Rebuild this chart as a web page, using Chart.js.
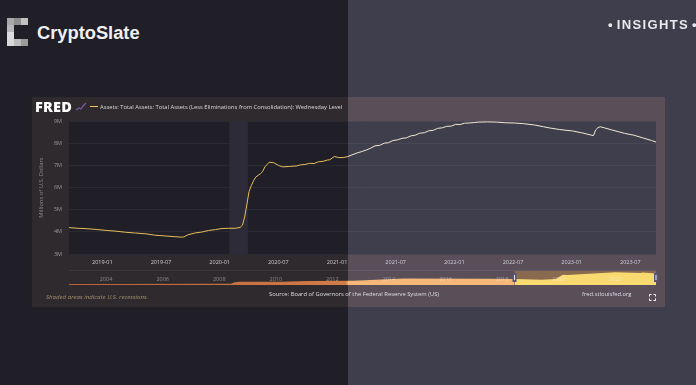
<!DOCTYPE html>
<html>
<head>
<meta charset="utf-8">
<title>CryptoSlate FRED</title>
<script src="https://cdn.jsdelivr.net/npm/chart.js@4"></script>
<style>
html, body { margin: 0; padding: 0; }
body { width: 696px; height: 385px; background: #201f28; overflow: hidden; position: relative; font-family: "Open Sans", sans-serif; }
div, canvas, svg { position: absolute; }
#panel_left { left: 32px; top: 97px; width: 316px; height: 210px; background: #2e2a2d; }
#panel_right { left: 348px; top: 97px; width: 317px; height: 210px; background: #403238; }
#main { left: 32px; top: 97px; }
#nav { left: 65px; top: 268px; }
#overlay { left: 348px; top: 0; width: 348px; height: 385px; background: rgba(220,220,255,0.17); }
#brand { left: 37px; top: 22px; font: bold 18.3px "Liberation Sans", sans-serif; color: #f0f0f2; }
#insights { left: 608px; top: 17px; font: bold 13px "Liberation Sans", sans-serif; letter-spacing: 1.35px; word-spacing: -2px; color: #e9e9ee; white-space: nowrap; }
.logo { width: 7px; height: 7px; }
#fred { left: 35px; top: 97px; font: 800 14.5px "Open Sans", sans-serif; color: #fff; letter-spacing: 0.2px; }
#swatch { left: 90px; top: 106px; width: 8px; height: 1px; background: #f2c55c; }
#legend { left: 100px; top: 102px; font-size: 5.8px; line-height: 10px; color: #dcdcdc; white-space: nowrap; }
#shaded { left: 46px; top: 292px; font-size: 6.1px; line-height: 10px; font-style: italic; color: #a3916a; white-space: nowrap; }
#source { left: 269px; top: 289px; font-size: 5.8px; line-height: 10px; color: #dfdfdf; white-space: nowrap; }
#site { left: 582px; top: 289px; font-size: 5.8px; line-height: 10px; color: #dfdfdf; white-space: nowrap; }
</style>
</head>
<body>
<div id="panel_left"></div>
<div id="panel_right"></div>
<canvas id="main" width="633" height="175"></canvas>
<canvas id="nav" width="597" height="19"></canvas>
<div id="fred">FRED</div>
<svg style="left:75px;top:101px" width="12" height="10"><polyline points="1,9 4,7 6,8 8,5 11,2" fill="none" stroke="#7a5aa6" stroke-width="1.3"/></svg>
<div id="swatch"></div>
<div id="legend"></div>
<div id="shaded">Shaded areas indicate U.S. recessions.</div>
<div id="source">Source: Board of Governors of the Federal Reserve System (US)</div>
<div id="site">fred.stlouisfed.org</div>
<svg style="left:649px;top:294px" width="7" height="7"><path d="M0.5 2.5V0.5H2.5M4.5 0.5H6.5V2.5M6.5 4.5V6.5H4.5M2.5 6.5H0.5V4.5" fill="none" stroke="#fff" stroke-width="1"/></svg>
<div id="overlay"></div>
<div id="logo"></div>
<div id="brand">CryptoSlate</div>
<div id="insights">&bull; INSIGHTS &bull;</div>

<script>
const seriesName = 'Assets: Total Assets: Total Assets (Less Eliminations from Consolidation): Wednesday Level'
const yTitle = 'Millions of U.S. Dollars'

const dates = [
    '2018-09-19','2018-10-17','2018-11-14','2018-12-12','2019-01-16','2019-02-13','2019-03-13','2019-04-10',
    '2019-05-15','2019-06-12','2019-07-17','2019-08-14','2019-09-04','2019-09-11','2019-09-25','2019-10-16',
    '2019-11-06','2019-11-27','2019-12-18','2020-01-08','2020-01-29','2020-02-19','2020-03-04','2020-03-11',
    '2020-03-18','2020-03-25','2020-04-01','2020-04-08','2020-04-15','2020-04-22','2020-05-06','2020-05-13',
    '2020-05-20','2020-05-27','2020-06-03','2020-06-17','2020-07-01','2020-07-15','2020-08-05','2020-08-26',
    '2020-09-09','2020-09-23','2020-10-07','2020-10-21','2020-11-04','2020-11-18','2020-12-02','2020-12-09',
    '2020-12-23','2021-01-06','2021-01-20','2021-02-03','2021-02-17','2021-03-03','2021-03-17','2021-03-31',
    '2021-04-14','2021-04-28','2021-05-12','2021-05-26','2021-06-09','2021-06-23','2021-07-07','2021-07-21',
    '2021-08-04','2021-08-18','2021-09-01','2021-09-15','2021-09-29','2021-10-13','2021-10-27','2021-11-10',
    '2021-11-24','2021-12-08','2021-12-22','2022-01-05','2022-01-19','2022-02-02','2022-02-16','2022-03-02',
    '2022-03-16','2022-04-13','2022-05-11','2022-06-08','2022-07-06','2022-08-03','2022-09-07','2022-10-05',
    '2022-10-26','2022-11-23','2022-12-14','2023-01-04','2023-02-01','2023-03-08','2023-03-15','2023-03-22',
    '2023-03-29','2023-04-12','2023-05-03','2023-05-24','2023-06-14','2023-07-12','2023-08-09','2023-09-06',
    '2023-09-20'
]
const assets = [
    4.19,4.16,4.14,4.11,4.06,4.03,3.98,3.95,
    3.91,3.85,3.81,3.78,3.76,3.77,3.87,3.95,
    3.99,4.06,4.10,4.15,4.16,4.16,4.20,4.30,
    4.67,5.25,5.81,6.08,6.30,6.47,6.62,6.72,
    6.93,7.04,7.14,7.12,7.00,6.93,6.95,6.97,
    7.02,7.04,7.09,7.08,7.16,7.18,7.24,7.25,
    7.40,7.35,7.35,7.39,7.47,7.56,7.62,7.69,
    7.77,7.88,7.90,8.00,8.02,8.12,8.15,8.22,
    8.24,8.33,8.36,8.45,8.47,8.56,8.58,8.67,
    8.69,8.76,8.77,8.85,8.84,8.90,8.91,8.93,
    8.95,8.96,8.95,8.92,8.91,8.88,8.82,8.74,
    8.68,8.62,8.58,8.55,8.47,8.34,8.60,8.70,
    8.74,8.69,8.60,8.52,8.44,8.36,8.24,8.12,
    8.05
]
const xTickLabels = ['2019-01','2019-07','2020-01','2020-07','2021-01','2021-07','2022-01','2022-07','2023-01','2023-07']
const yTicks = [3, 4, 5, 6, 7, 8, 9]
const recessionStart = '2020-02-01'
const recessionEnd = '2020-03-28'

// navigator, whole history
const navDates = ['2002-12-18','2008-09-10','2008-10-15','2008-12-17','2010-06-16','2011-06-15','2013-01-16','2014-10-15','2017-10-18','2018-09-19','2019-09-04','2020-03-04','2020-06-03','2020-08-05','2022-04-13','2023-03-08','2023-03-29','2023-09-20']
const navValues = [0.72,0.92,1.77,2.25,2.33,2.87,2.95,4.48,4.46,4.19,3.76,4.20,7.14,6.95,8.96,8.34,8.74,8.05]
const navTickLabels = ['2004','2006','2008','2010','2012','2014','2016','2018','2020','2022']
const windowStart = '2018-09-19'
const windowEnd = '2023-09-20'

// pixel blocks of the logo: column, row, grey
const logoCols = [0,1,2,0,0,0,0,1,2]
const logoRows = [0,0,0,1,2,3,3,3,3]
const logoGreys = ['#a8a8a8','#8e8e8e','#c2c2c2','#b8b8b8','#dcdcdc','#b0b0b0','#d8d8d8','#bcbcbc','#9c9c9c']

const mes = (fecha) => {
    const p = fecha.split('-').map(Number)
    return (p[0] - 2019) * 12 + ((p[1] || 1) - 1) + ((p[2] || 1) - 1) / 30.4
}

document.getElementById('legend').textContent = seriesName
logoCols.forEach((c, i) => {
    const d = document.createElement('div')
    d.className = 'logo'
    d.style.left = (7 + c * 7) + 'px'
    d.style.top = (18 + logoRows[i] * 7) + 'px'
    d.style.background = logoGreys[i]
    document.getElementById('logo').appendChild(d)
})

const bandaRecesion = {
    id: 'bandaRecesion',
    beforeDraw(chart) {
        const a = chart.chartArea, ctx = chart.ctx
        ctx.fillStyle = '#201f28'
        ctx.fillRect(a.left, a.top, a.width, a.height)
    },
    beforeDatasetsDraw(chart) {
        const a = chart.chartArea, ctx = chart.ctx, x = chart.scales.x
        const x0 = x.getPixelForValue(mes(recessionStart))
        const x1 = x.getPixelForValue(mes(recessionEnd))
        ctx.fillStyle = '#2c2b37'
        ctx.fillRect(x0, a.top, x1 - x0, a.height)
    }
}

new Chart(document.getElementById('main').getContext('2d'), {
    type: 'line',
    data: {
        datasets: [{
            label: seriesName,
            data: dates.map((d, i) => ({ x: mes(d), y: assets[i] })),
            borderColor: '#e8bd5a',
            // the line turns pale under the lighter half of the page
            segment: { borderColor: (c) => c.p0.parsed.x >= mes('2021-02-03') ? '#f5ecc8' : '#e8bd5a' },
            borderWidth: 1,
            pointRadius: 0,
            tension: 0
        }]
    },
    options: {
        responsive: false,
        animation: false,
        layout: { padding: { top: 24, right: 9 } },
        plugins: { legend: { display: false }, tooltip: { enabled: false } },
        scales: {
            x: {
                type: 'linear',
                min: mes(dates[0]),
                max: mes(dates[dates.length - 1]),
                afterBuildTicks: (s) => { s.ticks = xTickLabels.map((l) => ({ value: mes(l) })) },
                afterFit: (s) => { s.height = 18 },
                grid: { display: false, drawTicks: false },
                border: { display: false },
                ticks: {
                    autoSkip: false,
                    maxRotation: 0,
                    padding: 5,
                    color: '#cfcfcf',
                    font: { family: 'Open Sans', size: 5.5 },
                    callback: (v, i) => xTickLabels[i]
                }
            },
            y: {
                min: 3,
                max: 9,
                afterBuildTicks: (s) => { s.ticks = yTicks.map((v) => ({ value: v })) },
                afterFit: (s) => { s.width = 37 },
                grid: { color: '#2a2934', drawTicks: false, lineWidth: 1 },
                border: { display: false },
                title: {
                    display: true,
                    text: yTitle,
                    color: '#8f8c8c',
                    padding: { top: 6, bottom: 0 },
                    font: { family: 'Open Sans', size: 5.8 }
                },
                ticks: {
                    padding: 7,
                    color: '#9b9898',
                    font: { family: 'Open Sans', size: 5.5 },
                    callback: (v) => v + 'M'
                }
            }
        }
    },
    plugins: [bandaRecesion]
})

const ventana = {
    id: 'ventana',
    beforeDatasetsDraw(chart) {
        const a = chart.chartArea, ctx = chart.ctx, x = chart.scales.x
        const x0 = x.getPixelForValue(mes(windowStart))
        const x1 = x.getPixelForValue(mes(windowEnd))
        ctx.fillStyle = 'rgba(255,255,255,0.07)'
        ctx.fillRect(a.left, a.top - 1, a.width, 1)
        ctx.fillStyle = '#7a532c'
        ctx.fillRect(x0, a.top, x1 - x0, a.height)
    },
    afterDatasetsDraw(chart) {
        const a = chart.chartArea, ctx = chart.ctx, x = chart.scales.x
        ;[windowStart, windowEnd].forEach((d) => {
            const px = x.getPixelForValue(mes(d))
            ctx.fillStyle = '#3d3a5c'
            ctx.fillRect(px - 2, a.top + 2, 4, 9)
            ctx.fillStyle = '#e6e6ee'
            ctx.fillRect(px - 0.5, a.top + 4, 1, 5)
        })
        // year labels sit over the area, faint, starting at their tick
        ctx.save()
        ctx.font = '5.5px "Open Sans"'
        ctx.textAlign = 'left'
        ctx.textBaseline = 'middle'
        ctx.fillStyle = 'rgba(255,255,255,0.42)'
        navTickLabels.forEach((l) => ctx.fillText(l, x.getPixelForValue(mes(l)) + 1.5, a.bottom - 6))
        ctx.restore()
    }
}

const navPuntos = navDates.map((d, i) => ({ x: mes(d), y: navValues[i] }))
const navCtx = document.getElementById('nav').getContext('2d')
const naranja = navCtx.createLinearGradient(0, 0, 597, 0)
naranja.addColorStop(0, '#b5603a')
naranja.addColorStop(0.47, '#d27c47')
naranja.addColorStop(0.475, '#fab15d')
naranja.addColorStop(1, '#fab15d')

new Chart(navCtx, {
    type: 'line',
    data: {
        datasets: [
            { data: navPuntos.filter((p) => p.x <= mes(windowStart)), fill: 'origin', backgroundColor: naranja, borderWidth: 0, pointRadius: 0, tension: 0 },
            { data: navPuntos.filter((p) => p.x >= mes(windowStart)), fill: 'origin', backgroundColor: '#ffda53', borderWidth: 0, pointRadius: 0, tension: 0 }
        ]
    },
    options: {
        responsive: false,
        animation: false,
        layout: { padding: { left: 4, right: 6, top: 3, bottom: 2 } },
        plugins: { legend: { display: false }, tooltip: { enabled: false } },
        scales: {
            x: {
                type: 'linear',
                display: false,
                min: mes(navDates[0]),
                max: mes(navDates[navDates.length - 1])
            },
            y: { display: false, min: 0, max: 9.8 }
        }
    },
    plugins: [ventana]
})
</script>
</body>
</html>
